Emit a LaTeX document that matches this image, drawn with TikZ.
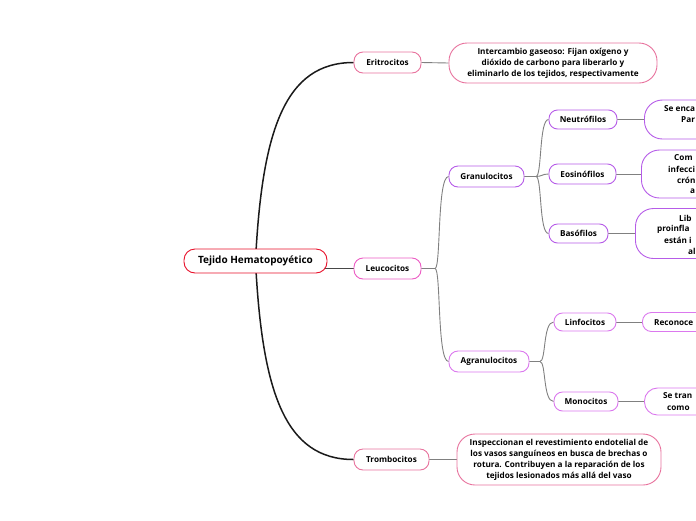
\documentclass[tikz,border=0pt]{standalone}
\usepackage{fontspec}
\setmainfont{Open Sans}
\usetikzlibrary{backgrounds,calc}
\definecolor{rootred}{HTML}{E8102A}
\definecolor{pinkA}{HTML}{E8739E}
\definecolor{pinkB}{HTML}{EC5CC4}
\definecolor{violA}{HTML}{B65CE8}
\definecolor{violB}{HTML}{DB78EE}
\definecolor{conn}{HTML}{808080}
\definecolor{rootconn}{HTML}{1A1A1A}
\tikzset{
  base/.style={draw, fill=white, font=\bfseries\fontsize{8.2}{11}\selectfont, align=center, inner sep=0pt, line width=0.9pt},
  rootbox/.style={base, draw=rootred, rounded corners=11pt, minimum width=143pt, minimum height=24pt, font=\bfseries\fontsize{10}{13}\selectfont},
  lvlbox/.style={base, rounded corners=9pt, minimum height=21pt},
  subbox/.style={base, rounded corners=8.5pt, minimum height=19pt},
  descbox/.style={base, rounded corners=18pt},
  cutbox/.style={base, rounded corners=18pt, anchor=west, minimum width=140pt},
  cuttext/.style={anchor=west, inner sep=0pt, font=\bfseries\fontsize{8.2}{11}\selectfont},
  rootline/.style={draw=rootconn, line width=1.5pt},
  midline/.style={draw=rootconn!80, line width=1.1pt},
  conline/.style={draw=conn, line width=0.9pt},
}
\begin{document}
\begin{tikzpicture}[x=1pt,y=-1pt]
\useasboundingbox (0,0) rectangle (696,520);
\clip (0,0) rectangle (696,520);
% root
\node[rootbox] (root) at (255.5,261) {Tejido Hematopoyético};
% level one
\node[lvlbox, draw=pinkA, minimum width=67pt] (eri) at (387.5,62.5) {Eritrocitos};
\node[lvlbox, draw=pinkB, minimum width=67pt] (leu) at (387.5,268.5) {Leucocitos};
\node[lvlbox, draw=pinkA, minimum width=75pt] (trom) at (391.5,459.5) {Trombocitos};
% descriptions
\node[descbox, draw=pinkA, minimum width=208pt, minimum height=40pt] (eriD) at (553,63) {Intercambio gaseoso: Fijan oxígeno y\\dióxido de carbono para liberarlo y\\eliminarlo de los tejidos, respectivamente};
\node[descbox, draw=pinkA, minimum width=204pt, minimum height=51pt] (tromD) at (559,459.5) {Inspeccionan el revestimiento endotelial de\\los vasos sanguíneos en busca de brechas o\\rotura. Contribuyen a la reparación de los\\tejidos lesionados más allá del vaso};
% level two
\node[lvlbox, draw=violA, minimum width=75pt] (gran) at (486.5,176.5) {Granulocitos};
\node[lvlbox, draw=violB, minimum width=80pt] (agran) at (489,361.5) {Agranulocitos};
% level three
\node[subbox, draw=violA, minimum width=68pt] (neut) at (583,119.5) {Neutrófilos};
\node[subbox, draw=violA, minimum width=67pt, minimum height=20pt] (eos) at (582.5,174) {Eosinófilos};
\node[subbox, draw=violA, minimum width=59pt] (bas) at (578.5,233.5) {Basófilos};
\node[subbox, draw=violB, minimum width=62pt, minimum height=18pt] (linf) at (585,322) {Linfocitos};
\node[subbox, draw=violB, minimum width=64pt] (mono) at (586,401.5) {Monocitos};
% cut-off descriptions
\node[cutbox, draw=violA, minimum height=39pt] (neutD) at (644,119.5) {};
\node[cutbox, draw=violA, minimum height=48pt] (eosD) at (641,174) {};
\node[cutbox, draw=violA, minimum height=50pt] (basD) at (635,233.5) {};
\node[cutbox, draw=violB, minimum height=19pt, rounded corners=9pt] (linfD) at (642,322) {};
\node[cutbox, draw=violB, minimum height=27pt, rounded corners=13pt] (monoD) at (644,401.5) {};
\node[cuttext] (n1) at (664,109) {Se enca};
\node[cuttext] (n2) at (681,120) {Par};
\node[cuttext] (e1) at (674,158) {Com};
\node[cuttext] (e2) at (668,169) {infecci};
\node[cuttext] (e3) at (677,180) {crón};
\node[cuttext] (e4) at (690,191) {a};
\node[cuttext] (b1) at (679,218) {Lib};
\node[cuttext] (b2) at (657,229) {proinfla};
\node[cuttext] (b3) at (664,240) {están i};
\node[cuttext] (b4) at (688,251) {al};
\node[cuttext] (l1) at (654,322.5) {Reconoce};
\node[cuttext] (m1) at (663,396) {Se tran};
\node[cuttext] (m2) at (667,408) {como};
% connectors
\begin{scope}[on background layer]
\draw[rootline] (root.center) .. controls (262,130) and (285,62.5) .. (eri.west);
\draw[rootline] (root.center) .. controls (262,392) and (285,459.5) .. (trom.west);
\draw[midline] (root.center |- leu.west) -- (leu.west);
\draw[conline] (eri.east) -- (eriD.west);
\draw[conline] (trom.east) -- (tromD.west);
\draw[conline] (leu.east) -- (435,268.5) .. controls (441,268.5) and (437,176.5) .. (gran.west);
\draw[conline] (leu.east) -- (435,268.5) .. controls (441,268.5) and (437,361.5) .. (agran.west);
\draw[conline] (gran.east) -- (536,176.5) .. controls (542,176.5) and (539,119.5) .. (neut.west);
\draw[conline] (gran.east) -- (536,176.5) .. controls (542,176.5) and (542,174) .. (eos.west);
\draw[conline] (gran.east) -- (536,176.5) .. controls (542,176.5) and (539,233.5) .. (bas.west);
\draw[conline] (agran.east) -- (540,361.5) .. controls (546,361.5) and (543,322) .. (linf.west);
\draw[conline] (agran.east) -- (540,361.5) .. controls (546,361.5) and (543,401.5) .. (mono.west);
\draw[conline] (neut.east) -- (neutD.west);
\draw[conline] (eos.east) -- (eosD.west);
\draw[conline] (bas.east) -- (basD.west);
\draw[conline] (linf.east) -- (linfD.west);
\draw[conline] (mono.east) -- (monoD.west);
\end{scope}
\end{tikzpicture}
\end{document}
